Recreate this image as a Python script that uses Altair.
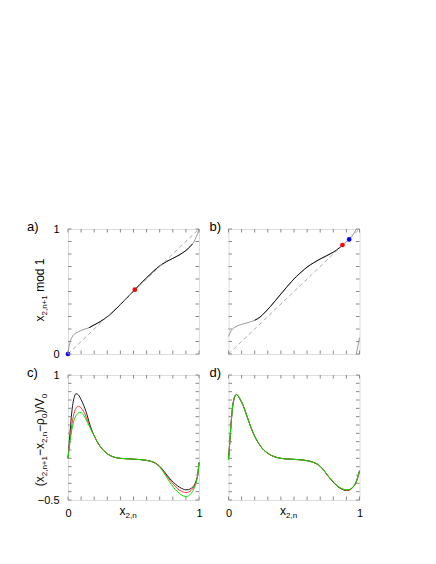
import altair as alt
import pandas as pd

FONT = "Liberation Sans"

# ---------------- data ----------------
# panel a : map x_{2,n} -> x_{2,n+1} mod 1
A_X = [0.0, 0.005, 0.01, 0.02, 0.03, 0.045, 0.06, 0.08, 0.1, 0.13, 0.16, 0.2, 0.25, 0.3,
       0.35, 0.4, 0.45, 0.5, 0.55, 0.6, 0.65, 0.7, 0.75, 0.8, 0.85, 0.9, 0.93, 0.95,
       0.97, 0.98, 0.99, 1.0]
A_Y = [0.0, 0.04, 0.07, 0.11, 0.135, 0.155, 0.167, 0.178, 0.188, 0.2, 0.21, 0.233, 0.262,
       0.298, 0.344, 0.395, 0.449, 0.503, 0.558, 0.61, 0.66, 0.705, 0.738, 0.765, 0.793,
       0.828, 0.857, 0.88, 0.915, 0.94, 0.965, 1.0]
A_DARK = [0.16, 0.95]
A_RED = [0.51, 0.515]
A_BLUE = [0.0, 0.0]

# panel b
B_X = [0.0, 0.01, 0.02, 0.035, 0.05, 0.07, 0.1, 0.13, 0.16, 0.2, 0.24, 0.28, 0.32, 0.36,
       0.4, 0.44, 0.48, 0.52, 0.56, 0.6, 0.65, 0.7, 0.75, 0.8, 0.85, 0.87, 0.9, 0.921,
       0.95, 0.975]
B_Y = [0.14, 0.165, 0.185, 0.203, 0.215, 0.226, 0.237, 0.246, 0.255, 0.27, 0.295, 0.335,
       0.38, 0.43, 0.48, 0.53, 0.578, 0.622, 0.66, 0.695, 0.73, 0.76, 0.787, 0.815, 0.852,
       0.872, 0.897, 0.917, 0.953, 1.0]
B_WRAP_X = [0.975, 0.985, 0.993, 1.0]
B_WRAP_Y = [0.0, 0.05, 0.09, 0.13]
B_DARK = [0.2, 0.87]
B_RED = [0.87, 0.872]
B_BLUE = [0.921, 0.917]

DIAG = [0.0, 1.0]

# panels c, d : (x_{2,n+1}-x_{2,n}-rho_0)/V_0
CD_X = [0.0, 0.01, 0.02, 0.03, 0.04, 0.05, 0.06, 0.07, 0.08, 0.09, 0.1, 0.12, 0.14, 0.16,
        0.18, 0.2, 0.23, 0.26, 0.3, 0.35, 0.4, 0.45, 0.5, 0.55, 0.6, 0.65, 0.7, 0.73, 0.76,
        0.79, 0.82, 0.85, 0.88, 0.9, 0.92, 0.94, 0.96, 0.98, 0.99, 1.0]
C_BLACK = [0.0, 0.2, 0.4, 0.57, 0.68, 0.745, 0.775, 0.772, 0.76, 0.735, 0.705, 0.635, 0.55,
           0.44, 0.345, 0.27, 0.18, 0.115, 0.055, 0.015, 0.0, -0.005, -0.01, -0.015, -0.025,
           -0.045, -0.095, -0.15, -0.21, -0.265, -0.31, -0.345, -0.37, -0.378, -0.375, -0.36,
           -0.33, -0.26, -0.2, -0.05]
C_RED = [0.0, 0.15, 0.29, 0.41, 0.5, 0.56, 0.6, 0.62, 0.625, 0.62, 0.605, 0.56, 0.49, 0.41,
         0.335, 0.27, 0.18, 0.115, 0.055, 0.015, 0.0, -0.005, -0.01, -0.015, -0.025, -0.045,
         -0.1, -0.158, -0.225, -0.285, -0.34, -0.38, -0.405, -0.41, -0.405, -0.385, -0.345,
         -0.27, -0.2, -0.05]
C_GREEN = [0.0, 0.13, 0.25, 0.35, 0.42, 0.475, 0.51, 0.53, 0.545, 0.55, 0.548, 0.515, 0.46,
           0.395, 0.33, 0.27, 0.18, 0.115, 0.055, 0.015, 0.0, -0.005, -0.01, -0.015, -0.025,
           -0.045, -0.105, -0.17, -0.245, -0.315, -0.375, -0.42, -0.452, -0.458, -0.45, -0.42,
           -0.37, -0.28, -0.2, -0.05]
D_BLACK = [-0.02, 0.2, 0.42, 0.6, 0.7, 0.75, 0.766, 0.756, 0.735, 0.705, 0.675, 0.6, 0.51,
           0.42, 0.335, 0.265, 0.18, 0.115, 0.06, 0.02, 0.0, -0.008, -0.012, -0.018, -0.028,
           -0.05, -0.095, -0.15, -0.212, -0.27, -0.32, -0.357, -0.38, -0.386, -0.382, -0.362,
           -0.327, -0.26, -0.21, -0.15]
D_RED = [-0.02, 0.2, 0.42, 0.6, 0.7, 0.75, 0.765, 0.755, 0.735, 0.705, 0.675, 0.6, 0.51,
         0.42, 0.335, 0.265, 0.18, 0.115, 0.06, 0.02, 0.0, -0.008, -0.012, -0.018, -0.028,
         -0.05, -0.095, -0.15, -0.21, -0.266, -0.316, -0.352, -0.375, -0.381, -0.378, -0.36,
         -0.326, -0.26, -0.21, -0.15]
D_GREEN = [-0.02, 0.2, 0.42, 0.6, 0.7, 0.75, 0.765, 0.755, 0.735, 0.705, 0.675, 0.6, 0.51,
           0.42, 0.335, 0.265, 0.18, 0.115, 0.06, 0.02, 0.0, -0.008, -0.012, -0.018, -0.028,
           -0.05, -0.095, -0.15, -0.21, -0.265, -0.315, -0.35, -0.372, -0.378, -0.375, -0.358,
           -0.325, -0.26, -0.21, -0.15]

TICKS_X = [0.0, 0.1, 0.2, 0.3, 0.4, 0.5, 0.6, 0.7, 0.8, 0.9, 1.0]
TICKS_Y_AB = [0.0, 0.1, 0.2, 0.3, 0.4, 0.5, 0.6, 0.7, 0.8, 0.9, 1.0]
TICKS_Y_CD = [-0.5, -0.4, -0.3, -0.2, -0.1, 0.0, 0.1, 0.2, 0.3, 0.4, 0.5, 0.6, 0.7, 0.8,
              0.9, 1.0]

PANEL_LABELS = ["a)", "b)", "c)", "d)"]

# ---------------- styling ----------------
W, H = 131, 125
TL = 3.5
FRAME = "#8a8a8a"
TITLE_SIZE = 12
SUB_SIZE = 8
SUB_SHIFT = 2.5
NBSP = "\u00a0"
GAP = 3.5  # extra space between subscript and following word

ARIAL = {" ": 278, NBSP: 278, "(": 333, ")": 333, "+": 584, ",": 278, "/": 278, "V": 667,
         "d": 556, "m": 833, "n": 556, "o": 556, "x": 500, "ρ": 577, "−": 584}


def twidth(s, size):
    return sum(ARIAL.get(c, 556) for c in s) / 1000.0 * size


ONE = pd.DataFrame({"k": [0]})


def rich(segments, px, py, angle=0):
    off = 0.0
    out = []
    for t, s, sh, pre in segments:
        off += pre
        kw = dict(text=t, font=FONT, fontSize=s, align="left", baseline="alphabetic",
                  dx=off, dy=sh, color="black")
        if angle:
            kw["angle"] = angle
        out.append(alt.Chart(ONE).mark_text(**kw).encode(x=alt.value(px), y=alt.value(py)))
        off += twidth(t, s)
    return out


def panel(ydom, yticks, lines, dots, label, xlabels, ylabels, ytitle, xtitle):
    xs = alt.Scale(domain=[0, 1], nice=False, zero=False)
    ys = alt.Scale(domain=ydom, nice=False, zero=False)
    if xlabels:
        xax = alt.Axis(values=xlabels, format="~g", domain=False, ticks=False, tickSize=0,
                       grid=False, labelFont=FONT, labelFontSize=11, labelColor="black",
                       labelPadding=7, labelFlush=False, title=None)
    else:
        xax = None
    if ylabels:
        yax = alt.Axis(values=ylabels, format=".1~f", domain=False, ticks=False, tickSize=0,
                       grid=False, labelFont=FONT, labelFontSize=11, labelColor="black",
                       labelPadding=9, labelFlush=False, title=None)
    else:
        yax = None
    X = lambda f: alt.X(f, scale=xs, axis=xax)
    Y = lambda f: alt.Y(f, scale=ys, axis=yax)
    layers = []
    for xv, yv, color, width, dash in lines:
        df = pd.DataFrame({"x": xv, "y": yv})
        mk = dict(color=color, strokeWidth=width, interpolate="monotone")
        if dash:
            mk["strokeDash"] = dash
        layers.append(alt.Chart(df).mark_line(**mk).encode(x=X("x:Q"), y=Y("y:Q")))
    for (dx_, dy_), color in dots:
        df = pd.DataFrame({"x": [dx_], "y": [dy_]})
        layers.append(alt.Chart(df).mark_circle(color=color, size=22, opacity=1).encode(
            x=X("x:Q"), y=Y("y:Q")))
    dxt = pd.DataFrame({"x": TICKS_X})
    dyt = pd.DataFrame({"y": yticks})
    tick = dict(color=FRAME, strokeWidth=1)
    layers.append(alt.Chart(dxt).mark_rule(**tick).encode(
        x=X("x:Q"), y=alt.value(0), y2=alt.value(TL)))
    layers.append(alt.Chart(dxt).mark_rule(**tick).encode(
        x=X("x:Q"), y=alt.value(H), y2=alt.value(H - TL)))
    layers.append(alt.Chart(dyt).mark_rule(**tick).encode(
        y=Y("y:Q"), x=alt.value(0), x2=alt.value(TL)))
    layers.append(alt.Chart(dyt).mark_rule(**tick).encode(
        y=Y("y:Q"), x=alt.value(W), x2=alt.value(W - TL)))
    # panel label
    lx = -41 if label in ("a)", "c)") else -19
    layers.append(alt.Chart(ONE).mark_text(text=label, font=FONT, fontSize=13, align="left",
                                           baseline="alphabetic", color="black").encode(
        x=alt.value(lx), y=alt.value(2)))
    if ytitle:
        segs, center = ytitle
        total = sum(twidth(t, s) + pre for t, s, _, pre in segs)
        layers += rich(segs, -24, center + total / 2, angle=270)
    if xtitle:
        layers += rich(xtitle, 51.5, H + 15)
    return alt.layer(*layers).properties(width=W, height=H)


YT_A = [("x", TITLE_SIZE, 0, 0), ("2,n+1", SUB_SIZE, SUB_SHIFT, 0),
        ("mod" + NBSP + "1", TITLE_SIZE, 0, GAP)]
YT_C = [("(", TITLE_SIZE, 0, 0), ("x", TITLE_SIZE, 0, 0), ("2,n+1", SUB_SIZE, SUB_SHIFT, 0),
        ("−", TITLE_SIZE, 0, 0), ("x", TITLE_SIZE, 0, 0), ("2,n", SUB_SIZE, SUB_SHIFT, 0),
        ("−", TITLE_SIZE, 0, 0), ("ρ", TITLE_SIZE, 0, 0), ("0", SUB_SIZE, SUB_SHIFT, 0),
        (")/V", TITLE_SIZE, 0, 0), ("0", SUB_SIZE, SUB_SHIFT, 0)]
XT = [("x", TITLE_SIZE, 0, 0), ("2,n", SUB_SIZE, SUB_SHIFT, 0)]


def sub(xv, yv, lo, hi):
    pts = [(a, b) for a, b in zip(xv, yv) if lo <= a <= hi]
    return [p[0] for p in pts], [p[1] for p in pts]


ax_d, ay_d = sub(A_X, A_Y, *A_DARK)
bx_d, by_d = sub(B_X, B_Y, *B_DARK)

pa = panel([0, 1], TICKS_Y_AB,
           [(A_X, A_Y, "#8c8c8c", 0.9, None), (ax_d, ay_d, "#111111", 1.0, None),
            (DIAG, DIAG, "#a0a0a0", 0.9, [4, 3])],
           [(A_RED, "#ff0000"), (A_BLUE, "#0000ff")],
           PANEL_LABELS[0], None, [0, 1], (YT_A, 61), None)
pb = panel([0, 1], TICKS_Y_AB,
           [(B_X, B_Y, "#8c8c8c", 0.9, None), (bx_d, by_d, "#111111", 1.0, None),
            (B_WRAP_X, B_WRAP_Y, "#8c8c8c", 0.9, None),
            (DIAG, DIAG, "#a0a0a0", 0.9, [4, 3])],
           [(B_RED, "#ff0000"), (B_BLUE, "#0000ff")],
           PANEL_LABELS[1], None, None, None, None)
pc = panel([-0.5, 1], TICKS_Y_CD,
           [(CD_X, C_BLACK, "#000000", 0.9, None), (CD_X, C_RED, "#ff2020", 0.9, None),
            (CD_X, C_GREEN, "#00e000", 1.0, None)],
           [], PANEL_LABELS[2], [0, 1], [-0.5, 1], (YT_C, 65), XT)
pd_ = panel([-0.5, 1], TICKS_Y_CD,
            [(CD_X, D_BLACK, "#000000", 0.9, None), (CD_X, D_RED, "#ff2020", 0.9, None),
             (CD_X, D_GREEN, "#00e000", 1.0, None)],
            [], PANEL_LABELS[3], [0, 1], None, None, XT)

chart = alt.concat(pa, pb, pc, pd_, columns=2, spacing={"row": 21, "column": 29.5},
                   bounds="flush").properties(
    padding={"left": 18, "top": 212, "right": 5, "bottom": 5}
).configure_view(stroke=FRAME, strokeWidth=1).configure(background="white")

chart.save("out.html", embed_options={"renderer": "svg", "actions": False})
